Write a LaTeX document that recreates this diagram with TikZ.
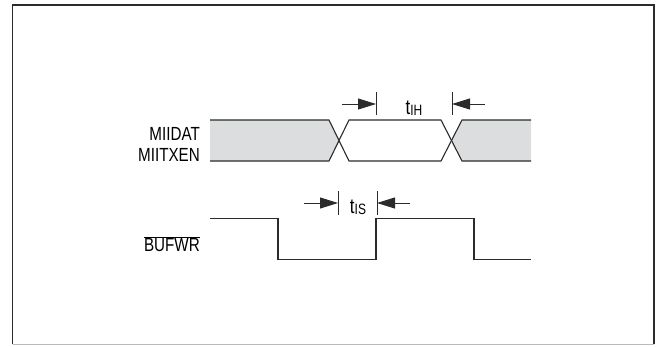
\documentclass[tikz,border=0pt]{standalone}
\usepackage{fontspec}
\newfontfamily\sigfont[FakeStretch=0.8]{Liberation Sans}
\usetikzlibrary{arrows.meta}
\definecolor{inkgray}{HTML}{2B2B2B}
\definecolor{busgray}{HTML}{DCDDDF}

\begin{document}
\begin{tikzpicture}[x=1pt, y=-1pt,
        wave/.style={draw=inkgray, line width=1.1pt},
        tick/.style={draw=inkgray, line width=0.9pt},
        dim/.style={draw=inkgray, line width=1pt,
                    -{Triangle[length=18pt,width=11pt]}},
        sig/.style={anchor=east, inner sep=0pt,
                    font=\sigfont\fontsize{19}{19}\selectfont},
        tlabel/.style={anchor=base, inner sep=0pt,
                    font=\sigfont\fontsize{21}{21}\selectfont},
    ]
    \useasboundingbox (0,0) rectangle (657,346);
    % frame
    \draw[inkgray, line width=1.6pt] (12.5,344.3) -- (12.5,5) -- (653.7,5) -- (653.7,344.3);
    \draw[gray!55, line width=1pt] (12.5,344.3) -- (653.7,344.3);

    % MIIDAT / MIITXEN bus
    \fill[busgray] (210,120) -- (329,120) -- (339,140.5) -- (329,161) -- (210,161) -- cycle;
    \fill[busgray] (531,120) -- (462,120) -- (451.5,140.5) -- (462,161) -- (531,161) -- cycle;
    \draw[wave] (210,120) -- (329,120) -- (349,161) -- (441,161) -- (462,120) -- (531,120);
    \draw[wave] (210,161) -- (329,161) -- (349,120) -- (441,120) -- (462,161) -- (531,161);

    % BUFWR
    \draw[wave] (210,218.7) -- (278,218.7) -- (278,259.7) -- (376,259.7)
        -- (376,218.7) -- (474,218.7) -- (474,259.7) -- (531,259.7);

    \node[sig] (miidat)  at (200,134)   {MIIDAT};
    \node[sig] (miitxen) at (200,154.5) {MIITXEN};
    \node[sig] (bufwr)   at (200,244)   {$\overline{\mbox{BUFWR}}$};

    % hold time
    \foreach \x in {376,452}
        \draw[tick] (\x,92) -- (\x,115);
    \coordinate (ihL)  at (376,104);
    \coordinate (ihR)  at (452,104);
    \coordinate (ihLt) at (342,104);
    \coordinate (ihRt) at (485,104);
    \draw[dim] (ihLt) -- (ihL);
    \draw[dim] (ihRt) -- (ihR);
    \node[tlabel] (tih) at (414,114.5) {t\raisebox{-1pt}{\fontsize{15}{15}\selectfont IH}};

    % setup time
    \foreach \x in {338,377}
        \draw[tick] (\x,191) -- (\x,215);
    \coordinate (isL)  at (338,203);
    \coordinate (isR)  at (377,203);
    \coordinate (isLt) at (304,203);
    \coordinate (isRt) at (410,203);
    \draw[dim] (isLt) -- (isL);
    \draw[dim] (isRt) -- (isR);
    \node[tlabel] (tis) at (358,213) {t\raisebox{-1pt}{\fontsize{15}{15}\selectfont IS}};
\end{tikzpicture}
\end{document}
